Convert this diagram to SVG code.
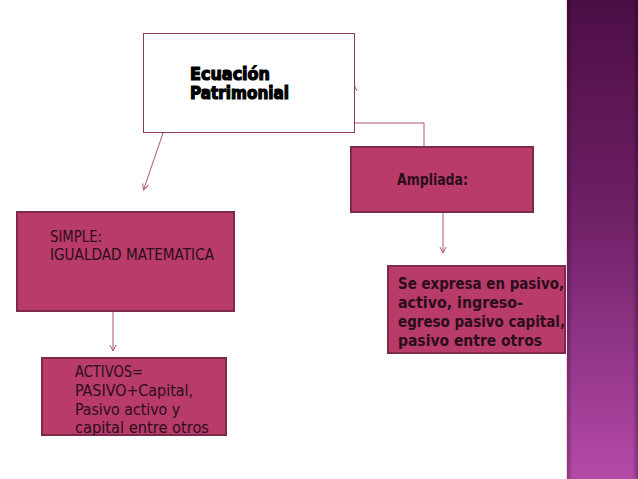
<svg xmlns="http://www.w3.org/2000/svg" width="638" height="479" viewBox="0 0 638 479">
<defs>
<linearGradient id="strip" x1="0" y1="0" x2="0" y2="1">
<stop offset="0" stop-color="#4c0e45"/>
<stop offset="0.45" stop-color="#6f2066"/>
<stop offset="1" stop-color="#b44aa8"/>
</linearGradient>
<linearGradient id="stripEdge" x1="0" y1="0" x2="1" y2="0">
<stop offset="0" stop-color="#000" stop-opacity="0.25"/>
<stop offset="0.08" stop-color="#000" stop-opacity="0"/>
<stop offset="0.92" stop-color="#000" stop-opacity="0"/>
<stop offset="1" stop-color="#000" stop-opacity="0.3"/>
</linearGradient>
<marker id="arr" viewBox="0 0 8 8" refX="7" refY="4" markerWidth="8" markerHeight="8" markerUnits="userSpaceOnUse" orient="auto">
<path d="M1,1 L7,4 L1,7" fill="none" stroke="#b0527f" stroke-width="1"/>
</marker>
</defs>
<style>
.box{fill:#b83b69;stroke:#7e2a4d;stroke-width:2}
.txt{font-family:"DejaVu Sans Condensed","DejaVu Sans",sans-serif;font-size:16.5px;fill:#2b0d1c}
.btxt{font-family:"DejaVu Sans Condensed","DejaVu Sans",sans-serif;font-size:16px;font-weight:bold;fill:#2b0d1c}
.conn{fill:none;stroke:#b0527f;stroke-width:1}
.title{font-family:"DejaVu Sans",sans-serif;font-size:17px;font-weight:bold;fill:#000;stroke:#000;stroke-width:1.2}
</style>
<rect width="638" height="479" fill="#fff"/>
<g id="strip-deco">
<rect x="567" y="0" width="71" height="479" fill="url(#strip)"/>
<rect x="567" y="0" width="71" height="479" fill="url(#stripEdge)"/>
<line x1="566.5" y1="0" x2="566.5" y2="479" stroke="#f4d8ee" stroke-width="1"/>
</g>
<g id="connectors">
<line class="conn" x1="163" y1="133" x2="143.5" y2="190" marker-end="url(#arr)"/>
<polyline class="conn" points="424,146 424,123 354,123 354,85" marker-end="url(#arr)"/>
<line class="conn" x1="113" y1="311" x2="113" y2="351" marker-end="url(#arr)"/>
<line class="conn" x1="443" y1="212" x2="443" y2="253" marker-end="url(#arr)"/>
</g>
<g id="node-ecuacion">
<rect x="143.5" y="33.5" width="211" height="99" fill="#fff" stroke="#8a3a68" stroke-width="1"/>
<text class="title" x="190" y="80" textLength="80" lengthAdjust="spacingAndGlyphs">Ecuación</text>
<text class="title" x="190" y="99" textLength="99" lengthAdjust="spacingAndGlyphs">Patrimonial</text>
</g>
<g id="node-ampliada">
<rect class="box" x="351" y="147" width="182" height="65"/>
<text class="btxt" x="397" y="185" textLength="71" lengthAdjust="spacingAndGlyphs">Ampliada:</text>
</g>
<g id="node-simple">
<rect class="box" x="17" y="212" width="217" height="99"/>
<text class="txt" x="50" y="242" textLength="52" lengthAdjust="spacingAndGlyphs">SIMPLE:</text>
<text class="txt" x="50" y="260" textLength="164" lengthAdjust="spacingAndGlyphs">IGUALDAD MATEMATICA</text>
</g>
<g id="node-activos">
<rect class="box" x="42" y="358" width="184" height="77"/>
<text class="txt" x="75" y="377" textLength="68" lengthAdjust="spacingAndGlyphs">ACTIVOS=</text>
<text class="txt" x="75" y="396" textLength="118" lengthAdjust="spacingAndGlyphs">PASIVO+Capital,</text>
<text class="txt" x="75" y="415" textLength="105" lengthAdjust="spacingAndGlyphs">Pasivo activo y</text>
<text class="txt" x="75" y="433" textLength="134" lengthAdjust="spacingAndGlyphs">capital entre otros</text>
</g>
<g id="node-expresa">
<rect class="box" x="388" y="266" width="177" height="87"/>
<text class="btxt" x="398" y="289" textLength="166" lengthAdjust="spacingAndGlyphs">Se expresa en pasivo,</text>
<text class="btxt" x="398" y="308" textLength="125" lengthAdjust="spacingAndGlyphs">activo, ingreso-</text>
<text class="btxt" x="398" y="327" textLength="167" lengthAdjust="spacingAndGlyphs">egreso pasivo capital,</text>
<text class="btxt" x="398" y="346" textLength="144" lengthAdjust="spacingAndGlyphs">pasivo entre otros</text>
</g>
</svg>
